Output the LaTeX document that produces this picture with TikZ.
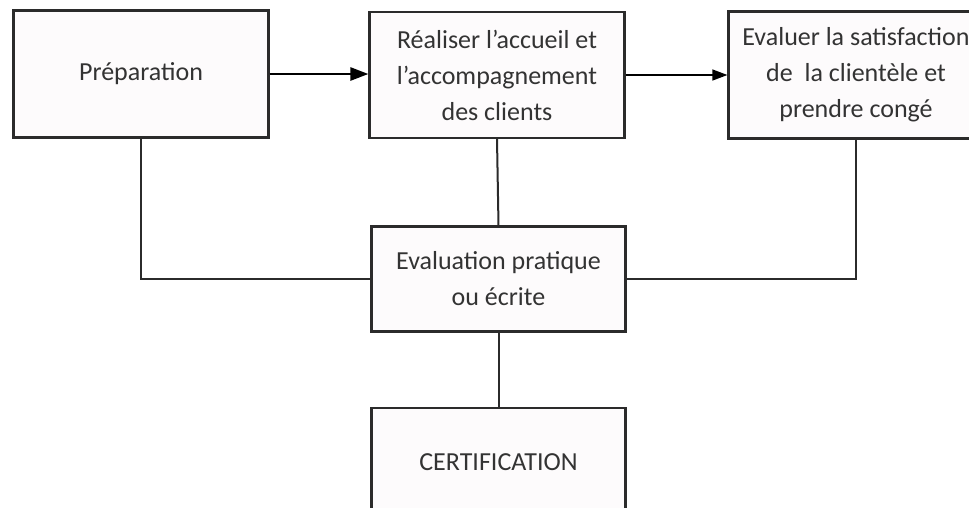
\documentclass[tikz,border=0pt]{standalone}
\usepackage{fontspec}
\setmainfont{Carlito}
\usetikzlibrary{arrows.meta}

\definecolor{boxline}{RGB}{43,43,43}
\definecolor{boxfill}{RGB}{253,251,252}
\definecolor{boxtext}{RGB}{51,51,51}

\tikzset{
  stagebox/.style={draw=boxline, line width=2.2pt, fill=boxfill, text=boxtext,
    align=center, inner sep=0pt, font=\fontsize{26}{36}\selectfont},
  link/.style={draw=boxline, line width=2pt},
  boldarrow/.style={draw=black, line width=2.6pt, -{Triangle[length=18pt,width=13pt]}},
  thinarrow/.style={draw=black, line width=1.3pt, -{Triangle[length=15pt,width=11pt]}}
}

\begin{document}
\begin{tikzpicture}[x=1pt,y=1pt,yscale=-1,xscale=1]
	\useasboundingbox (0,0) rectangle (969,507);
	\clip (0,0) rectangle (969,507);

	% Text Node
	\node [stagebox, minimum width=255, minimum height=127] (prep) at (141,74) {Préparation};
	% Text Node
	\node [stagebox, minimum width=255, minimum height=126] (accueil) at (497,75) {Réaliser l’accueil et\\l’accompagnement\\des clients};
	% Text Node
	\node [stagebox, minimum width=255, minimum height=127] (satisf) at (856,75) {Evaluer la satisfaction\\de\ \ la clientèle et\\prendre congé};
	% Text Node
	\node [stagebox, minimum width=254, minimum height=105] (evalu) at (498.5,279) {Evaluation pratique\\ou écrite};
	% Text Node
	\node [stagebox, minimum width=254, minimum height=108] (certif) at (498.5,462) {CERTIFICATION};

	% Connection
	\draw [boldarrow] (prep.east) -- (prep.east -| accueil.west);
	% Connection
	\draw [thinarrow] (accueil.east) -- (accueil.east -| satisf.west);
	% Connection
	\draw [link] (prep.south) |- (evalu.west);
	% Connection
	\draw [link] (accueil.south) -- (evalu.north);
	% Connection
	\draw [link] (satisf.south) |- (evalu.east);
	% Connection
	\draw [link] (evalu.south) -- (certif.north);

\end{tikzpicture}
\end{document}
